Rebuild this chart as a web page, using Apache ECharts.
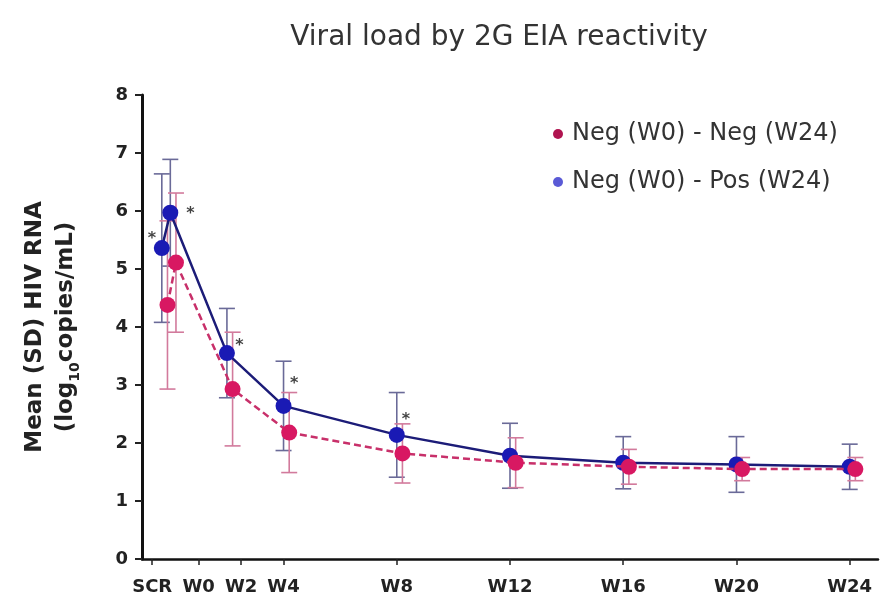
<!DOCTYPE html>
<html lang="en">
<head>
    <meta charset="utf-8">
    <title>Viral load by 2G EIA reactivity</title>
    <script src="https://cdn.jsdelivr.net/npm/echarts@6/dist/echarts.min.js"></script>
    <style>
        html, body { margin: 0; padding: 0; background: #fff; }
        #chart { width: 880px; height: 600px; }
    </style>
</head>
<body>
    <div id="chart"></div>
    <script type="text/javascript">
        // x tick positions (weeks) and their labels
        var tickWeeks = [-0.64, 1, 2.5, 4, 8, 12, 16, 20, 24];
        var tickLabels = ['SCR', 'W0', 'W2', 'W4', 'W8', 'W12', 'W16', 'W20', 'W24'];

        // Neg (W0) - Pos (W24)
        var posWeeks = [-0.3, 0, 2, 4, 8, 12, 16, 20, 24];
        var posMean = [5.36, 5.97, 3.55, 2.64, 2.14, 1.78, 1.66, 1.63, 1.59];
        var posSD = [1.28, 0.92, 0.77, 0.77, 0.73, 0.56, 0.45, 0.48, 0.39];

        // Neg (W0) - Neg (W24)
        var negWeeks = [-0.1, 0.2, 2.2, 4.2, 8.2, 12.2, 16.2, 20.2, 24.2];
        var negMean = [4.38, 5.11, 2.93, 2.18, 1.82, 1.66, 1.59, 1.55, 1.55];
        var negSD = [1.45, 1.2, 0.98, 0.69, 0.51, 0.43, 0.30, 0.20, 0.20];

        // significance asterisks
        var sigWeeks = [-0.65, 0.71, 2.44, 4.38, 8.32];
        var sigY = [5.6, 6.03, 3.76, 3.10, 2.48];

        var negName = 'Neg (W0) - Neg (W24)';
        var posName = 'Neg (W0) - Pos (W24)';

        function pairs(xs, ys) {
            return xs.map(function (x, i) { return [x, ys[i]]; });
        }
        function bars(xs, m, sd) {
            return xs.map(function (x, i) { return [x, m[i] - sd[i], m[i] + sd[i]]; });
        }
        function errorBar(color) {
            return function (params, api) {
                var x = api.value(0);
                var top = api.coord([x, api.value(2)]);
                var bot = api.coord([x, api.value(1)]);
                var hw = 8;
                var st = { stroke: color, lineWidth: 1.6 };
                return {
                    type: 'group',
                    children: [
                        { type: 'line', shape: { x1: top[0], y1: top[1], x2: bot[0], y2: bot[1] }, style: st },
                        { type: 'line', shape: { x1: top[0] - hw, y1: top[1], x2: top[0] + hw, y2: top[1] }, style: st },
                        { type: 'line', shape: { x1: bot[0] - hw, y1: bot[1], x2: bot[0] + hw, y2: bot[1] }, style: st }
                    ]
                };
            };
        }

        var chart = echarts.init(document.getElementById('chart'));
        var option = {
            animation: false,
            backgroundColor: '#fff',
            title: {
                text: 'Viral load by 2G EIA reactivity',
                left: 494,
                textAlign: 'center',
                top: 19,
                textStyle: { fontFamily: 'DejaVu Sans', fontWeight: 'normal', fontSize: 28, color: '#333' }
            },
            legend: {
                orient: 'vertical',
                left: 548,
                top: 117,
                itemGap: 24,
                itemWidth: 18,
                itemHeight: 10,
                icon: 'circle',
                textStyle: { fontFamily: 'DejaVu Sans', fontSize: 24, color: '#333' },
                data: [
                    { name: negName, itemStyle: { color: '#b01450' } },
                    { name: posName, itemStyle: { color: '#5a5ad6' } }
                ]
            },
            grid: { left: 142, right: 2, top: 95, bottom: 41 },
            xAxis: {
                type: 'value',
                min: -1,
                max: 25,
                splitLine: { show: false },
                axisLine: { onZero: false, lineStyle: { color: '#111', width: 2.5 } },
                axisTick: {
                    show: true,
                    length: 6,
                    customValues: tickWeeks,
                    lineStyle: { color: '#222', width: 1.5 }
                },
                axisLabel: {
                    customValues: tickWeeks,
                    margin: 19,
                    fontFamily: 'DejaVu Sans',
                    fontWeight: 'bold',
                    fontSize: 18,
                    color: '#222',
                    formatter: function (v) {
                        for (var i = 0; i < tickWeeks.length; i++) {
                            if (Math.abs(tickWeeks[i] - v) < 1e-6) return tickLabels[i];
                        }
                        return '';
                    }
                }
            },
            yAxis: {
                type: 'value',
                min: 0,
                max: 8,
                interval: 1,
                splitLine: { show: false },
                axisLine: { show: true, onZero: false, lineStyle: { color: '#111', width: 3 } },
                axisTick: { show: true, length: 7, lineStyle: { color: '#222', width: 2 } },
                axisLabel: {
                    margin: 14,
                    fontFamily: 'DejaVu Sans',
                    fontWeight: 'bold',
                    fontSize: 18,
                    color: '#222'
                },
                name: 'Mean (SD) HIV RNA\n(log{sub|10}copies/mL)',
                nameLocation: 'middle',
                nameRotate: 90,
                nameGap: 60,
                nameTextStyle: {
                    fontFamily: 'DejaVu Sans',
                    fontWeight: 'bold',
                    fontSize: 23,
                    lineHeight: 31,
                    color: '#222',
                    rich: {
                        sub: { fontFamily: 'DejaVu Sans', fontSize: 14, fontWeight: 'bold', verticalAlign: 'bottom', lineHeight: 31, padding: [8, 0, 0, 0] }
                    }
                }
            },
            series: [
                {
                    type: 'custom',
                    name: 'posErr',
                    renderItem: errorBar('#6a6a98'),
                    data: bars(posWeeks, posMean, posSD),
                    z: 1
                },
                {
                    type: 'custom',
                    name: 'negErr',
                    renderItem: errorBar('#d27a9c'),
                    data: bars(negWeeks, negMean, negSD),
                    z: 1
                },
                {
                    type: 'line',
                    name: posName,
                    data: pairs(posWeeks, posMean),
                    symbol: 'circle',
                    symbolSize: 16,
                    lineStyle: { color: '#1c1c78', width: 2.5 },
                    itemStyle: { color: '#1a1ab4' },
                    z: 3
                },
                {
                    type: 'line',
                    name: negName,
                    data: pairs(negWeeks, negMean),
                    symbol: 'circle',
                    symbolSize: 16,
                    lineStyle: { color: '#c8306a', width: 2.5, type: [7, 4] },
                    itemStyle: { color: '#d81862' },
                    z: 4
                },
                {
                    type: 'scatter',
                    name: 'sig',
                    data: pairs(sigWeeks, sigY),
                    symbolSize: 2,
                    itemStyle: { color: 'rgba(0,0,0,0)' },
                    label: {
                        show: true,
                        position: 'inside',
                        formatter: '*',
                        offset: [0, 5],
                        fontFamily: 'DejaVu Sans',
                        fontWeight: 'bold',
                        fontSize: 16,
                        color: '#111'
                    },
                    z: 5
                }
            ]
        };
        chart.setOption(option);
    </script>
</body>
</html>
